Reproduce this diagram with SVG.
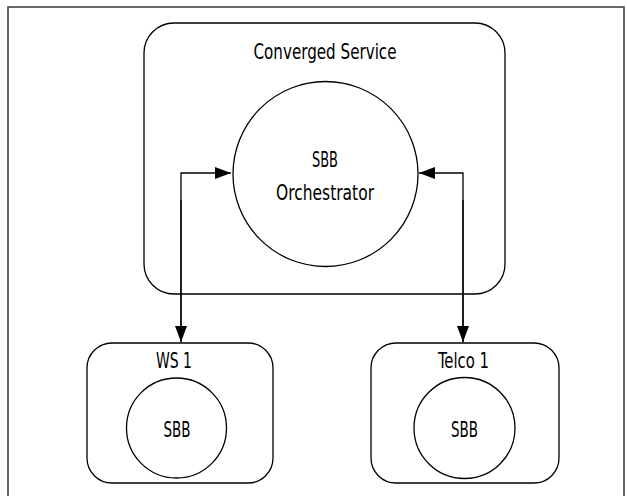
<svg xmlns="http://www.w3.org/2000/svg" width="627" height="496" viewBox="0 0 627 496">
<defs>
<style>
.box{fill:none;stroke:#000;stroke-width:1.3}
.frame{fill:none;stroke:#444;stroke-width:1.6}
.lbl{font-family:"DejaVu Sans Condensed","Liberation Sans",sans-serif;font-size:20.5px;fill:#000;text-anchor:middle}
.con{fill:none;stroke:#000;stroke-width:1.3}
</style>
<marker id="ah" viewBox="0 0 16 12" refX="16" refY="6" markerWidth="16" markerHeight="12" markerUnits="userSpaceOnUse" orient="auto">
<path d="M0,0 L16,6 L0,12 Z" fill="#000"/>
</marker>
</defs>
<rect class="frame" x="8" y="7" width="616" height="500"/>
<g id="converged">
<rect class="box" x="144" y="23" width="361" height="271" rx="30" ry="30"/>
<text class="lbl" x="325" y="59" textLength="143" lengthAdjust="spacingAndGlyphs">Converged Service</text>
</g>
<g id="orchestrator">
<circle class="box" cx="325.5" cy="174" r="92.5"/>
<text class="lbl" x="325" y="167" textLength="26" lengthAdjust="spacingAndGlyphs">SBB</text>
<text class="lbl" x="325" y="200" textLength="98" lengthAdjust="spacingAndGlyphs">Orchestrator</text>
</g>
<g id="ws1">
<rect class="box" x="87" y="343" width="186" height="140" rx="25" ry="25"/>
<text class="lbl" x="174" y="368" textLength="36" lengthAdjust="spacingAndGlyphs">WS 1</text>
<circle class="box" cx="176.5" cy="428" r="50"/>
<text class="lbl" x="177" y="437" textLength="27" lengthAdjust="spacingAndGlyphs">SBB</text>
</g>
<g id="telco1">
<rect class="box" x="371" y="343" width="188" height="140" rx="25" ry="25"/>
<text class="lbl" x="463.5" y="368" textLength="51" lengthAdjust="spacingAndGlyphs">Telco 1</text>
<circle class="box" cx="464.5" cy="428" r="50.5"/>
<text class="lbl" x="464.5" y="437" textLength="27" lengthAdjust="spacingAndGlyphs">SBB</text>
</g>
<g id="connectors">
<path class="con" d="M181,342 L181,173 L231,173" marker-end="url(#ah)"/>
<path class="con" d="M181,200 L181,342" marker-end="url(#ah)"/>
<path class="con" d="M463,342 L463,173 L419,173" marker-end="url(#ah)"/>
<path class="con" d="M463,200 L463,342" marker-end="url(#ah)"/>
</g>
</svg>
